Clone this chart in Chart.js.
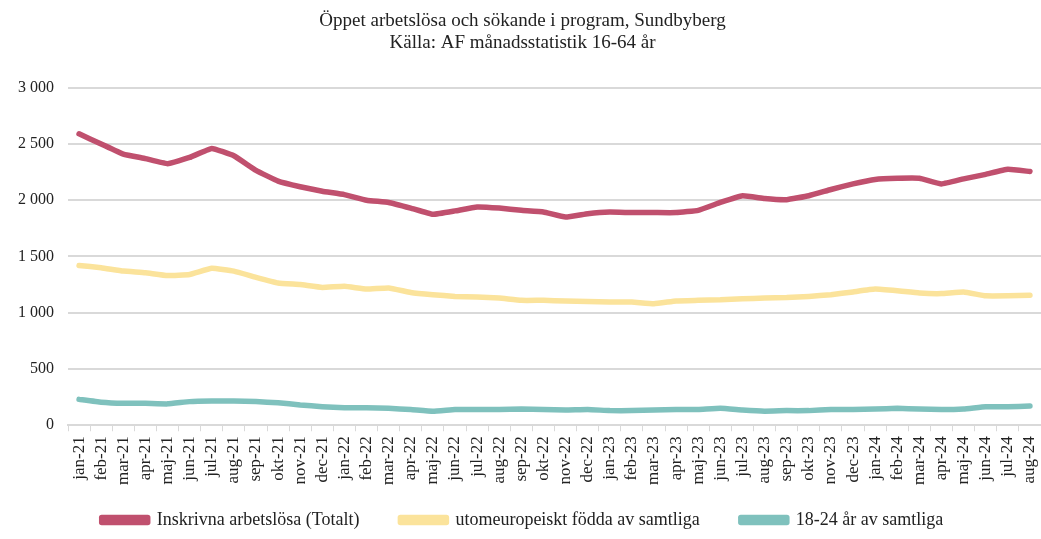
<!DOCTYPE html>
<html>
<head>
<meta charset="utf-8">
<script src="https://cdn.jsdelivr.net/npm/chart.js@4/dist/chart.umd.min.js"></script>
<style>
  html, body { margin: 0; padding: 0; background: #fff; }
  #wrap { width: 1041px; height: 539px; }
</style>
</head>
<body>
<div id="wrap"><canvas id="Chart"></canvas></div>
<script>
// månader jan-21 .. aug-24
var months = ['jan-21','feb-21','mar-21','apr-21','maj-21','jun-21','jul-21','aug-21','sep-21','okt-21','nov-21','dec-21',
  'jan-22','feb-22','mar-22','apr-22','maj-22','jun-22','jul-22','aug-22','sep-22','okt-22','nov-22','dec-22',
  'jan-23','feb-23','mar-23','apr-23','maj-23','jun-23','jul-23','aug-23','sep-23','okt-23','nov-23','dec-23',
  'jan-24','feb-24','mar-24','apr-24','maj-24','jun-24','jul-24','aug-24'];

var totalt = [2590,2500,2410,2370,2325,2380,2460,2395,2265,2170,2120,2080,
  2050,2000,1980,1930,1875,1905,1940,1930,1910,1895,1850,1880,
  1895,1890,1890,1890,1910,1980,2040,2015,2005,2040,2095,2145,
  2185,2195,2195,2145,2190,2230,2275,2255];

var utomeuropeiskt = [1420,1400,1370,1355,1330,1340,1395,1370,1315,1265,1250,1225,
  1235,1210,1220,1180,1160,1145,1140,1130,1110,1110,1105,1100,
  1095,1095,1080,1105,1110,1115,1125,1130,1135,1145,1160,1185,
  1210,1195,1175,1170,1185,1150,1150,1155];

var unga = [230,205,195,195,190,210,215,215,210,200,180,165,
  155,155,150,140,125,140,140,140,145,140,135,140,
  130,130,135,140,140,150,135,125,130,130,140,140,
  145,150,145,140,145,165,165,170];

var yTicks = [0,500,1000,1500,2000,2500,3000];

var serif = "'Liberation Serif', 'DejaVu Serif', serif";

function line(label, data, color){
    return {
        label: label,
        data: data,
        borderColor: color,
        backgroundColor: color,
        borderWidth: 5.5,
        pointRadius: 0,
        tension: 0.1,
        borderCapStyle: 'round',
        borderJoinStyle: 'round'
    };
}

var ctx = document.getElementById('Chart');
var chart = new Chart(ctx, {
    type: 'line',
    data: {
        labels: months,
        datasets: [
            line('Inskrivna arbetslösa (Totalt)', totalt, '#c0506e'),
            line('utomeuropeiskt födda av samtliga', utomeuropeiskt, '#fbe39b'),
            line('18-24 år av samtliga', unga, '#7fc1bd')
        ]
    },
    options: {
        responsive: true,
        maintainAspectRatio: false,
        animation: false,
        layout: { padding: { left: 4, right: 0, top: 4, bottom: 0 } },
        plugins: {
            title: {
                display: true,
                text: ['Öppet arbetslösa och sökande i program, Sundbyberg', 'Källa: AF månadsstatistik 16-64 år'],
                color: '#222',
                font: { family: serif, size: 19, weight: 'normal', lineHeight: 1.15 },
                padding: { top: 6, bottom: 34 }
            },
            legend: {
                position: 'bottom',
                labels: {
                    color: '#222',
                    font: { family: serif, size: 18 },
                    boxWidth: 46,
                    boxHeight: 5,
                    padding: 5,
                    // extra mellanrum mellan posterna
                    generateLabels: function(c){
                        var items = Chart.defaults.plugins.legend.labels.generateLabels(c);
                        items.forEach(function(it, i){
                            if(i < items.length - 1) it.text = it.text + '        ';
                        });
                        return items;
                    }
                }
            },
            tooltip: { enabled: false }
        },
        scales: {
            x: {
                offset: true,
                afterFit: function(s){
                    s.paddingRight = 0;
                    s.height += 16;
                },
                grid: {
                    offset: true,
                    drawOnChartArea: false,
                    drawTicks: true,
                    tickLength: 6,
                    color: '#d9d9d9'
                },
                border: { color: '#d9d9d9', width: 2 },
                ticks: {
                    color: '#222',
                    font: { family: serif, size: 17 },
                    minRotation: 90,
                    maxRotation: 90,
                    autoSkip: false,
                    padding: 5
                }
            },
            y: {
                min: 0,
                max: 3000,
                afterBuildTicks: function(axis){
                    axis.ticks = yTicks.map(function(v){ return { value: v }; });
                },
                grid: { color: '#d9d9d9', lineWidth: 2, drawTicks: false },
                border: { display: false },
                ticks: {
                    color: '#222',
                    font: { family: serif, size: 16 },
                    padding: 14,
                    callback: function(v){
                        return v.toString().replace(/\B(?=(\d{3})+(?!\d))/g, ' ');
                    }
                }
            }
        }
    }
});
</script>
</body>
</html>
